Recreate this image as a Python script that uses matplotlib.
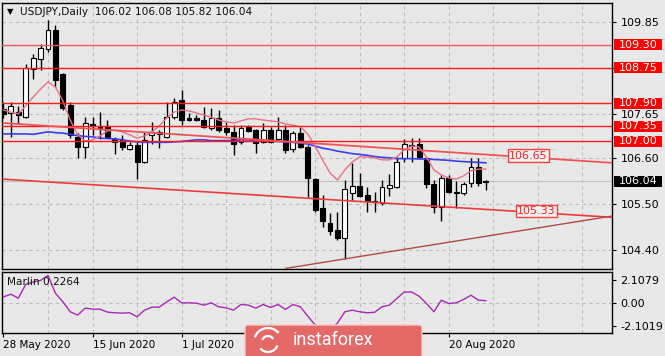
import matplotlib
matplotlib.use('Agg')
import matplotlib.pyplot as plt
import matplotlib.transforms as mtransforms
from matplotlib.patches import Rectangle, FancyBboxPatch, Arc
import numpy as np

# ---------------- data ----------------
opens = [107.77,107.67,107.69,107.57,108.72,108.96,109.20,109.65,108.60,107.86,
         107.10,106.86,107.41,107.36,107.36,107.05,107.03,106.81,106.91,106.50,
         107.15,107.17,107.10,107.57,107.98,107.55,107.55,107.50,107.31,107.55,
         107.31,107.22,106.98,107.34,107.26,106.98,107.26,107.05,107.26,106.81,
         107.19,106.86,106.09,105.40,105.04,104.88,104.69,105.76,105.93,105.71,
         105.57,105.52,105.88,105.90,106.60,106.91,106.93,106.60,105.98,105.43,
         106.12,105.78,105.76,106.00,106.38,106.02]
highs = [107.93,107.93,107.84,108.84,109.08,109.32,109.88,109.77,108.63,107.93,
         107.19,107.57,107.57,107.69,107.50,107.10,107.15,106.98,106.98,107.22,
         107.46,107.26,107.93,108.03,108.22,107.67,107.62,107.81,107.79,107.74,
         107.46,107.38,107.38,107.38,107.28,107.43,107.34,107.57,107.38,107.24,
         107.34,106.91,106.12,105.71,105.28,105.31,106.07,106.48,106.24,105.90,
         105.78,106.07,106.21,106.62,107.05,107.07,107.07,106.62,106.07,106.19,
         106.19,106.05,106.02,106.60,106.60,106.08]
lows = [107.55,107.10,107.43,107.55,108.48,108.70,109.13,108.29,107.74,107.07,
        106.60,106.60,107.15,107.05,107.07,106.69,106.79,106.79,106.09,106.48,
        106.93,106.83,107.07,107.53,107.38,107.48,107.48,107.31,107.26,107.22,
        107.15,106.67,106.93,107.22,106.72,106.95,106.95,107.03,106.72,106.74,
        106.83,105.67,105.31,104.95,104.76,104.64,104.19,105.59,105.67,105.31,
        105.31,105.47,105.69,105.88,106.50,106.50,106.60,105.88,105.28,105.10,
        105.76,105.40,105.71,105.90,105.93,105.82]
closes = [107.65,107.84,107.62,108.74,108.98,109.22,109.65,108.46,107.79,107.15,
          106.86,107.43,107.36,107.31,107.10,106.98,106.86,106.91,106.50,107.03,
          107.22,107.22,107.57,107.93,107.50,107.50,107.50,107.34,107.55,107.26,
          107.22,106.93,107.31,107.24,106.95,107.26,106.98,107.26,106.79,107.19,
          106.86,106.12,105.35,105.09,104.85,104.69,105.86,105.93,105.69,105.57,
          105.55,105.90,105.95,106.50,106.93,106.88,106.62,105.98,105.43,106.12,
          105.78,105.76,105.98,106.38,106.00,106.04]
ma_slow = [107.17,107.17,107.17,107.17,107.16,107.19,107.22,107.20,107.19,107.16,
           107.13,107.11,107.10,107.07,107.06,107.05,107.03,107.00,106.98,106.97,
           106.97,106.97,106.97,106.98,106.99,107.01,107.03,107.03,107.01,107.01,
           107.01,107.01,107.03,107.03,107.01,107.01,107.00,106.99,106.98,106.97,
           106.95,106.93,106.88,106.83,106.80,106.76,106.73,106.70,106.68,106.66,
           106.63,106.61,106.60,106.58,106.58,106.58,106.57,106.57,106.56,106.55,
           106.54,106.52,106.51,106.50,106.49,106.48]
ma_fast = [107.74,107.69,107.65,107.84,108.05,108.24,108.41,108.29,107.96,107.50,
           107.15,107.00,107.03,107.12,107.24,107.26,107.22,107.15,107.07,107.12,
           107.22,107.36,107.55,107.69,107.74,107.72,107.67,107.62,107.57,107.50,
           107.46,107.43,107.48,107.53,107.53,107.50,107.48,107.46,107.41,107.38,
           107.34,107.17,106.88,106.55,106.24,106.07,106.31,106.50,106.62,106.62,
           106.60,106.55,106.55,106.62,106.79,106.88,106.86,106.62,106.31,106.19,
           106.12,106.09,106.17,106.29,106.33,106.33]
marlin = [0.57,0.81,0.45,1.70,1.91,2.06,2.51,0.90,0.12,-0.78,
          -1.08,-0.45,-0.54,-0.54,-0.81,-0.87,-0.90,-0.87,-1.23,-0.63,
          -0.36,-0.36,0.12,0.54,0.03,0.03,0.0,-0.18,0.03,-0.33,
          -0.42,-0.63,-0.12,-0.18,-0.45,-0.12,-0.39,-0.12,-0.57,-0.12,
          -0.33,-1.17,-1.97,-2.51,-2.42,-1.80,-0.78,-0.63,-0.78,-0.87,
          -0.83,-0.33,-0.18,0.42,1.01,1.01,0.63,-0.03,-0.78,0.27,
          -0.03,0.03,0.33,0.72,0.27,0.2264]

levels = [109.30, 108.75, 107.90, 107.35, 107.00]
price_ticks = [109.85, 108.75, 107.65, 106.60, 105.50, 104.40]
marlin_ticks = [2.1079, 0.0, -2.1019]
marlin_tick_labels = ['2.1079', '0.00', '-2.1019']
date_idx = [0, 12, 24, 60]
date_labels = ['28 May 2020', '15 Jun 2020', '1 Jul 2020', '20 Aug 2020']
last_price = 106.04
tl_upper = [(0, 107.43), (82, 106.48)]
tl_lower = [(0, 106.09), (82, 105.18)]
tl_support = [(38, 103.96), (82, 105.21)]
tl_labels = [(70.75, 106.65, '106.65'), (71.8, 105.33, '105.33')]
symbol = 'USDJPY,Daily'
indicator_name = 'Marlin'

# ---------------- figure ----------------
W, H = 665, 356
BG = '#e8e8e8'
fig = plt.figure(figsize=(W / 100, H / 100), dpi=100, facecolor=BG)
plt.rcParams['font.family'] = ['DejaVu Sans']


def px_axes(l, t, r, b):
    return fig.add_axes([l / W, 1 - b / H, (r - l) / W, (b - t) / H])


ax = px_axes(2, 3, 612, 269)
ax2 = px_axes(2, 272, 612, 333)
for a in (ax, ax2):
    a.set_facecolor(BG)
    a.set_xlim(-0.2, 82.0)
    for s in a.spines.values():
        s.set_color('black')
        s.set_linewidth(1.0)
ax.set_ylim(103.946, 110.295)
ax2.set_ylim(-2.70, 2.82)

x = np.arange(len(opens))
o = np.array(opens); c = np.array(closes)
hi = np.array(highs); lo = np.array(lows)

# grid
grid_kw = dict(color='#bcbcbc', lw=0.8, ls=(0, (3, 3)), zorder=0.5)
for p in price_ticks:
    ax.axhline(p, **grid_kw)
for gi in range(6, 83, 6):
    ax.axvline(gi, **grid_kw)
    ax2.axvline(gi, **grid_kw)
ax2.axhline(0, **grid_kw)

# bid line
ax.axhline(last_price, color='#c2c2c2', lw=0.8, zorder=0.8)

# candles
ax.vlines(x, lo, hi, color='black', lw=1.0, zorder=2)
body_bottom = np.minimum(o, c)
body_h = np.maximum(np.abs(c - o), 0.008)
colors = ['white' if cc >= oo else 'black' for oo, cc in zip(o, c)]
ax.bar(x, body_h, bottom=body_bottom, width=0.66, color=colors,
       edgecolor='black', linewidth=0.8, zorder=3)

# moving averages
ax.plot(x, ma_slow, color='#3c3cf0', lw=1.2, zorder=4)
ax.plot(x, ma_fast, color='#e87088', lw=1.0, zorder=4)

# horizontal levels
for lv in levels:
    col = '#f25a5a' if lv == levels[0] else '#ff1a1a'
    ax.axhline(lv, color=col, lw=1.0, zorder=5)

# trend lines
(ax_, ay_), (bx_, by_) = tl_upper
ax.plot([ax_, bx_], [ay_, by_], color='#f05555', lw=1.3, zorder=5)
(ax_, ay_), (bx_, by_) = tl_lower
ax.plot([ax_, bx_], [ay_, by_], color='#f03a3a', lw=1.2, zorder=5)
(ax_, ay_), (bx_, by_) = tl_support
ax.plot([ax_, bx_], [ay_, by_], color='#b04a4a', lw=1.0, zorder=5)

for tx, ty, tt in tl_labels:
    ax.text(tx, ty, tt, color='#ff2020', ha='center', va='center', fontsize=8,
            zorder=7, bbox=dict(boxstyle='square,pad=0.12', fc='#f0f0f0',
                                ec='#ff4040', lw=1.0))

# price axis (labels hidden where a level box sits on top)
ax.yaxis.tick_right()
ax.set_yticks(price_ticks)
ax.set_yticklabels(['' if any(abs(p - lv) < 0.05 for lv in levels) else f'{p:.2f}'
                    for p in price_ticks])
ax.tick_params(axis='y', length=3, width=0.8, labelsize=8, pad=3, colors='black')
ax.set_xticks([])

px_per_price = (269 - 3) / (110.295 - 103.946)
trans = mtransforms.blended_transform_factory(ax.transAxes, ax.transData)
bx0 = (614 - 2) / 610
bw = 48 / 610
bh = 11 / px_per_price
for lv in levels:
    ax.add_patch(Rectangle((bx0, lv - bh / 2), bw, bh, transform=trans,
                           fc='#ff0000', ec='none', clip_on=False, zorder=8))
    ax.text(bx0 + bw / 2, lv, f'{lv:.2f}', transform=trans, color='white',
            ha='center', va='center', fontsize=8, zorder=9, clip_on=False)
ax.add_patch(Rectangle((bx0, last_price - bh / 2), bw, bh, transform=trans,
                       fc='black', ec='none', clip_on=False, zorder=8))
ax.text(bx0 + bw / 2, last_price, f'{last_price:.2f}', transform=trans,
        color='white', ha='center', va='center', fontsize=8, zorder=9, clip_on=False)

# lower panel
ax2.plot(x, marlin, color='#a62ab2', lw=1.0, zorder=3)
ax2.yaxis.tick_right()
ax2.set_yticks(marlin_ticks)
ax2.set_yticklabels(marlin_tick_labels)
ax2.tick_params(axis='y', length=3, width=0.8, labelsize=8, pad=3)
ax2.set_xticks(date_idx)
ax2.set_xticklabels(date_labels, ha='left')
ax2.tick_params(axis='x', length=3, width=0.8, labelsize=7.5, pad=2)

# titles
fig.text(7 / W, 1 - 12 / H, '\u25bc', fontsize=6, va='center', ha='left')
fig.text(20 / W, 1 - 12 / H,
         f'{symbol}  {opens[-1]:.2f} {highs[-1]:.2f} {lows[-1]:.2f} {closes[-1]:.2f}',
         fontsize=7.6, va='center', ha='left', color='#101010')
fig.text(7 / W, 1 - 282 / H, f'{indicator_name} {marlin[-1]:.4f}',
         fontsize=7.6, va='center', ha='left', color='#101010')

# watermark logo
ov = fig.add_axes([0, 0, 1, 1])
ov.set_xlim(0, W); ov.set_ylim(H, 0); ov.axis('off')
ov.patch.set_alpha(0)
ov.add_patch(FancyBboxPatch((245, 325), 177, 33,
                            boxstyle='round,pad=0,rounding_size=3',
                            fc='#e46a6a', ec='#f4caca', lw=1.0))
for r, a1, a2 in [(14, 200, 320), (10, 20, 140), (6, 200, 330)]:
    ov.add_patch(Arc((268, 342), 2 * r, 2 * r, theta1=a1, theta2=a2,
                     color='white', lw=1.6))
ov.text(333, 340, 'instaforex', color='white', fontsize=13, family='Roboto',
        ha='center', va='center')

fig.savefig('out.png', dpi=100, facecolor=BG)
